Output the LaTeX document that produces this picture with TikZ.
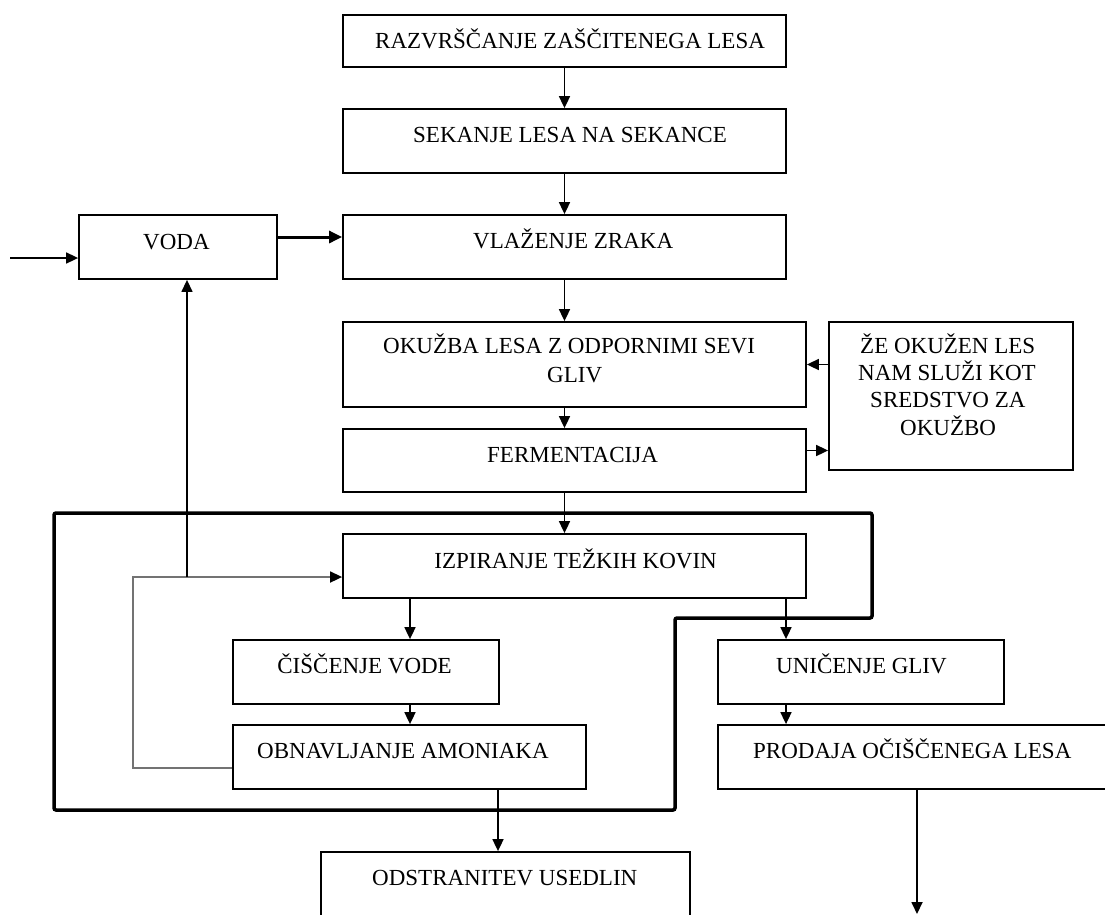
\documentclass[tikz,border=0pt]{standalone}
\usepackage{fontspec}
\setmainfont{Liberation Serif}
\usetikzlibrary{arrows.meta}
\begin{document}
\begin{tikzpicture}[x=1pt,y=-1pt,
  box/.style={draw, line width=1.8pt, inner sep=0pt, fill=white},
  txt/.style={anchor=base west, inner sep=0pt, font=\fontsize{23}{28}\selectfont},
  txte/.style={txt, anchor=base east},
  arr/.style={line width=1.7pt, -{Triangle[length=12pt,width=11pt]}},
  arrthick/.style={line width=3pt, -{Triangle[length=13pt,width=12pt]}},
  fbline/.style={line width=1.7pt, draw=black!55, -{Triangle[length=12pt,width=11pt,color=black]}},
  frame/.style={line width=3.5pt, rounded corners=2pt}
]
\useasboundingbox (0,0) rectangle (1105,914);
\clip (0,0) rectangle (1105,914);
\fill[white] (0,0) rectangle (1105,914);

% frame
\draw[frame] (54,513) -- (872,513) -- (872,618) -- (675,618) -- (675,810) -- (54,810) -- cycle;

% boxes
\node[box, minimum width=443, minimum height=52] (b1) at (564.5,41) {};
\node[box, minimum width=443, minimum height=64] (b2) at (564.5,141) {};
\node[box, minimum width=443, minimum height=64] (b3) at (564.5,247) {};
\node[box, minimum width=198, minimum height=64] (voda) at (178,247) {};
\node[box, minimum width=463, minimum height=85] (okuzba) at (574.5,364.5) {};
\node[box, minimum width=463, minimum height=63] (ferm) at (574.5,460.5) {};
\node[box, minimum width=244, minimum height=148] (ze) at (951,396) {};
\node[box, minimum width=463, minimum height=64] (izp) at (574.5,566) {};
\node[box, minimum width=266, minimum height=64] (cisc) at (366,672) {};
\node[box, minimum width=353, minimum height=64] (obn) at (409.5,757) {};
\node[box, minimum width=286, minimum height=64] (unic) at (861,672) {};
\node[box, minimum width=392, minimum height=64] (prod) at (914,757) {};
\node[box, minimum width=369, minimum height=78] (odst) at (505.5,891) {};

% texts
\node[txt] (t1) at (375,48) {RAZVRŠČANJE ZAŠČITENEGA LESA};
\node[txt] (t2) at (413,142) {SEKANJE LESA NA SEKANCE};
\node[txt] (t3) at (473,248) {VLAŽENJE ZRAKA};
\node[txt] (t4) at (143,249) {VODA};
\node[txt] (t5a) at (383,353) {OKUŽBA LESA Z ODPORNIMI SEVI};
\node[txt] (t5b) at (547,382) {GLIV};
\node[txt] (t6) at (487,462) {FERMENTACIJA};
\node[txt] (t7a) at (860,353) {ŽE OKUŽEN LES};
\node[txt] (t7b) at (858,380) {NAM SLUŽI KOT};
\node[txt] (t7c) at (870,407) {SREDSTVO ZA};
\node[txt] (t7d) at (900,435) {OKUŽBO};
\node[txte] (t8) at (717,568) {IZPIRANJE TEŽKIH KOVIN};
\node[txte] (t9) at (452,673) {ČIŠČENJE VODE};
\node[txt] (t10) at (257,758) {OBNAVLJANJE AMONIAKA};
\node[txt] (t11) at (776,673) {UNIČENJE GLIV};
\node[txt] (t12) at (753,758) {PRODAJA OČIŠČENEGA LESA};
\node[txt] (t13) at (372,885) {ODSTRANITEV USEDLIN};

% helper coordinates
\coordinate (inp) at (10,258);
\coordinate (ve) at ([yshift=10pt]voda.east);
\coordinate (fe) at ([yshift=10pt]ferm.east);
\coordinate (c1) at ([xshift=44pt]cisc.north);
\coordinate (c2) at ([xshift=-75pt]unic.north);
\coordinate (c3) at ([xshift=88.5pt]obn.south);
\coordinate (c4) at ([xshift=3pt]prod.south);
\coordinate (endp) at (917,914);
\coordinate (fb1) at ([yshift=-11pt]obn.west);
\coordinate (fb2) at ([yshift=-11pt]izp.west);
\coordinate (fx) at (133,0);
\coordinate (vx) at ([xshift=9pt]voda.south);

% connectors
\draw[arr] (b1.south) -- (b2.north);
\draw[arr] (b2.south) -- (b3.north);
\draw[arr] (b3.south) -- (b3.south |- okuzba.north);
\draw[arr] (b3.south |- okuzba.south) -- (b3.south |- ferm.north);
\draw[arr] (b3.south |- ferm.south) -- (b3.south |- izp.north);
\draw[arr] (inp) -- (inp -| voda.west);
\draw[arrthick] (ve) -- (ve -| b3.west);
\draw[arr] (ze.west |- okuzba.east) -- (okuzba.east);
\draw[arr] (fe) -- (fe -| ze.west);
\draw[arr] (c1 |- izp.south) -- (c1);
\draw[arr] (c1 |- cisc.south) -- (c1 |- obn.north);
\draw[arr] (c2 |- izp.south) -- (c2);
\draw[arr] (c2 |- unic.south) -- (c2 |- prod.north);
\draw[arr] (c3) -- (c3 |- odst.north);
\draw[arr] (c4) -- (endp);
\draw[fbline] (fb1) -- (fb1 -| fx) -- (fb2 -| fx) -- (fb2);
\draw[arr, line width=1.4pt] (vx |- fb2) -- (vx);
\end{tikzpicture}
\end{document}
